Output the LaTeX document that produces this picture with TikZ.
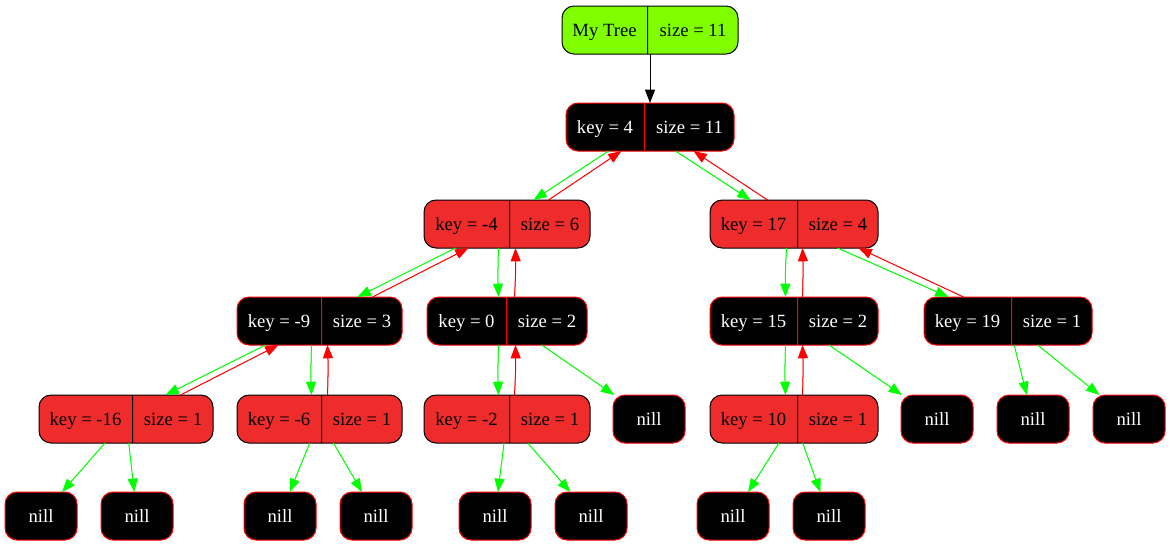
\documentclass[tikz,border=0pt]{standalone}
\usepackage{fontspec}
\setmainfont{Liberation Serif}
\usetikzlibrary{shapes.multipart,arrows.meta}
\newlength\pxunit
\setlength\pxunit{0.75pt}
\definecolor{gvred}{HTML}{EE2C2C}
\definecolor{gvgreen}{HTML}{00FF00}
\definecolor{gvchart}{HTML}{7FFF00}
\definecolor{gvedred}{HTML}{FF0000}
\tikzset{
  recbase/.style={rectangle split, rectangle split horizontal, rectangle split parts=2,
    rounded corners=9pt, inner xsep=0pt, inner ysep=9.6pt, line width=0.75pt, outer sep=0pt},
  redrec/.style={recbase, draw=black, fill=gvred, text=black},
  blackrec/.style={recbase, draw=red, fill=black, text=white},
  rootrec/.style={recbase, draw=black, fill=gvchart, text=black},
  nillbox/.style={rectangle, rounded corners=9pt, draw=red, fill=black, text=white,
    minimum width=54pt, minimum height=36pt, inner sep=0pt, line width=0.75pt, outer sep=0pt},
  edgebase/.style={line width=0.75pt, -{Triangle[length=10pt,width=7.5pt]}},
  gedge/.style={edgebase, draw=gvgreen, fill=gvgreen},
  redge/.style={edgebase, draw=gvedred, fill=gvedred},
  bedge/.style={edgebase, draw=black, fill=black},
  sx/.style={xshift=#1*0.75pt}
}
\newcommand\gvstrut{\rule[-3.3pt]{0pt}{16.8pt}}
\newcommand\prt[2]{\makebox[#1\pxunit]{\gvstrut #2}}
\begin{document}
\begin{tikzpicture}[x=0.75pt, y=-0.75pt, font=\fontsize{14}{16.8}\selectfont]
\useasboundingbox[fill=white] (0,0) rectangle (1171,547);
% records
\node[rootrec, anchor=west] (root) at (562,30) {\prt{85}{My Tree}\nodepart{two}\prt{90}{size = 11}};
\node[blackrec, anchor=west] (k4) at (566,127) {\prt{78}{key = 4}\nodepart{two}\prt{89}{size = 11}};
\node[redrec, anchor=west] (km4) at (424,224) {\prt{85}{key = -4}\nodepart{two}\prt{80}{size = 6}};
\node[redrec, anchor=west] (k17) at (710,224) {\prt{87}{key = 17}\nodepart{two}\prt{80}{size = 4}};
\node[blackrec, anchor=west] (km9) at (237,321) {\prt{84}{key = -9}\nodepart{two}\prt{80}{size = 3}};
\node[blackrec, anchor=west] (k0) at (427,321) {\prt{79}{key = 0}\nodepart{two}\prt{80}{size = 2}};
\node[blackrec, anchor=west] (k15) at (710,321) {\prt{87}{key = 15}\nodepart{two}\prt{80}{size = 2}};
\node[blackrec, anchor=west] (k19) at (924,321) {\prt{87}{key = 19}\nodepart{two}\prt{80}{size = 1}};
\node[redrec, anchor=west] (km16) at (39,419) {\prt{93}{key = -16}\nodepart{two}\prt{80}{size = 1}};
\node[redrec, anchor=west] (km6) at (237,419) {\prt{84}{key = -6}\nodepart{two}\prt{80}{size = 1}};
\node[redrec, anchor=west] (km2) at (424,419) {\prt{85}{key = -2}\nodepart{two}\prt{80}{size = 1}};
\node[redrec, anchor=west] (k10) at (710,419) {\prt{87}{key = 10}\nodepart{two}\prt{80}{size = 1}};
% nill leaves
\node[nillbox] (na) at (649,419) {\gvstrut nill};
\node[nillbox] (nb) at (937,419) {\gvstrut nill};
\node[nillbox] (nc) at (1033,419) {\gvstrut nill};
\node[nillbox] (nd) at (1129,419) {\gvstrut nill};
\node[nillbox] (ne) at (41,516) {\gvstrut nill};
\node[nillbox] (nf) at (137,516) {\gvstrut nill};
\node[nillbox] (ng) at (280,516) {\gvstrut nill};
\node[nillbox] (nh) at (376,516) {\gvstrut nill};
\node[nillbox] (ni) at (495,516) {\gvstrut nill};
\node[nillbox] (nj) at (591,516) {\gvstrut nill};
\node[nillbox] (nk) at (733,516) {\gvstrut nill};
\node[nillbox] (nl) at (829,516) {\gvstrut nill};
% edges
\draw[bedge] (root) -- (k4);
\draw[gedge] ([sx=-41.5]k4.south) -- ([sx=26.5]km4.north);
\draw[redge] ([sx=41.5]km4.north) -- ([sx=-28.5]k4.south);
\draw[gedge] ([sx=25.5]k4.south) -- ([sx=-43.5]k17.north);
\draw[redge] ([sx=-26.5]k17.north) -- ([sx=43.5]k4.south);
\draw[gedge] ([sx=-51.5]km4.south) -- ([sx=38]km9.north);
\draw[redge] ([sx=53]km9.north) -- ([sx=-38.5]km4.south);
\draw[gedge] ([sx=-8.5]km4.south) to[bend right=2] ([sx=-8.5]k0.north);
\draw[redge] ([sx=7.5]k0.north) to[bend right=2] ([sx=8.5]km4.south);
\draw[gedge] ([sx=-7.5]k17.south) to[bend right=2] ([sx=-8.5]k15.north);
\draw[redge] ([sx=8.5]k15.north) to[bend right=2] ([sx=8.5]k17.south);
\draw[gedge] ([sx=43.5]k17.south) -- ([sx=-59.5]k19.north);
\draw[redge] ([sx=-44.5]k19.north) -- ([sx=64.5]k17.south);
\draw[gedge] ([sx=-54]km9.south) -- ([sx=39.5]km16.north);
\draw[redge] ([sx=54.5]km16.north) -- ([sx=-41]km9.south);
\draw[gedge] ([sx=-8]km9.south) to[bend right=2] ([sx=-8]km6.north);
\draw[redge] ([sx=8]km6.north) to[bend right=2] ([sx=8]km9.south);
\draw[gedge] ([sx=-8.5]k0.south) to[bend right=2] ([sx=-8.5]km2.north);
\draw[redge] ([sx=7.5]km2.north) to[bend right=2] ([sx=8.5]k0.south);
\draw[gedge] ([sx=-8.5]k15.south) to[bend right=2] ([sx=-8.5]k10.north);
\draw[redge] ([sx=8.5]k10.north) to[bend right=2] ([sx=8.5]k15.south);
\draw[gedge] (k0) -- (na);
\draw[gedge] (k15) -- (nb);
\draw[gedge] (k19) -- (nc);
\draw[gedge] (k19) -- (nd);
\draw[gedge] (km16) -- (ne);
\draw[gedge] (km16) -- (nf);
\draw[gedge] (km6) -- (ng);
\draw[gedge] (km6) -- (nh);
\draw[gedge] (km2) -- (ni);
\draw[gedge] (km2) -- (nj);
\draw[gedge] (k10) -- (nk);
\draw[gedge] (k10) -- (nl);
\end{tikzpicture}
\end{document}
